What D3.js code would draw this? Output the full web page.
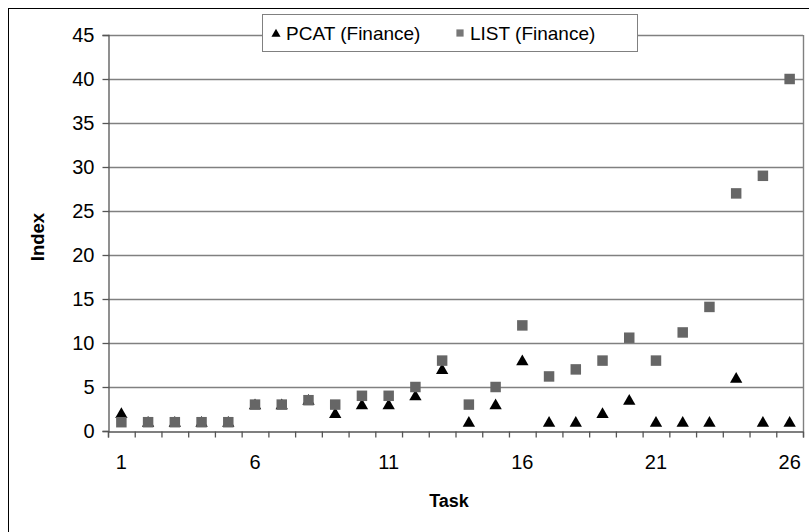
<html>
<head>
  <style>
    body { margin: 0; background: white; font-family: Arial, "Liberation Sans", Helvetica, sans-serif; }
    svg { display: block; }
  </style>
  <script src="https://cdn.jsdelivr.net/npm/d3@7"></script>
</head>
<body>
  <svg id="chart"></svg>
  <script>
    // data
    let tasks = d3.range(1, 27)
    let pcat = [2, 1, 1, 1, 1, 3, 3, 3.5, 2, 3, 3, 4, 7, 1, 3, 8, 1, 1, 2, 3.5, 1, 1, 1, 6, 1, 1]
    let list = [1, 1, 1, 1, 1, 3, 3, 3.5, 3, 4, 4, 5, 8, 3, 5, 12, 6.2, 7, 8, 10.6, 8, 11.2, 14.1, 27, 29, 40]
    let yTicks = [0, 5, 10, 15, 20, 25, 30, 35, 40, 45]
    let xLabels = [1, 6, 11, 16, 21, 26]
    let seriesNames = ["PCAT (Finance)", "LIST (Finance)"]

    let width = 809, height = 532
    let margin = { top: 35, left: 108, right: 6, bottom: 101 }
    let svg = d3.select("#chart").attr("width", width).attr("height", height)

    // outer frame
    svg.append("rect")
      .attr("x", 8.5).attr("y", 8.5)
      .attr("width", 820).attr("height", 540)
      .attr("fill", "white").attr("stroke", "#000")

    let x = d3.scaleBand().domain(tasks).range([margin.left, width - margin.right]).padding(0)
    let xEdge = d3.scaleLinear().domain([0, tasks.length]).range([margin.left, width - margin.right])
    let y = d3.scaleLinear().domain([0, 45]).range([height - margin.bottom, margin.top])

    // gridlines
    svg.append("g")
      .selectAll("line")
      .data(yTicks.filter(d => d > 0))
      .enter().append("line")
      .attr("x1", margin.left).attr("x2", width - margin.right)
      .attr("y1", d => Math.round(y(d)) + 0.5).attr("y2", d => Math.round(y(d)) + 0.5)
      .attr("stroke", "#808080").attr("stroke-width", 1.4)

    // right border of plot area
    svg.append("line")
      .attr("x1", width - margin.right + 0.5).attr("x2", width - margin.right + 0.5)
      .attr("y1", margin.top).attr("y2", y(0))
      .attr("stroke", "#808080").attr("stroke-width", 1.4)

    // y axis
    let axisY = d3.axisLeft(y).tickValues(yTicks).tickSize(6).tickPadding(8)
    let gy = svg.append("g")
      .attr("transform", `translate(${margin.left + 0.5},0)`)
      .call(axisY)
    gy.selectAll("text").attr("font-size", 20).attr("font-family", "Arial, 'Liberation Sans', sans-serif").attr("fill", "#000")
    gy.selectAll("line, path").attr("stroke", "#555").attr("stroke-width", 1.3)

    // x axis: ticks between categories
    let axisXTicks = d3.axisBottom(xEdge).tickValues(d3.range(0, tasks.length + 1)).tickSize(6).tickFormat("")
    let gx = svg.append("g")
      .attr("transform", `translate(0,${Math.round(y(0)) + 0.5})`)
      .call(axisXTicks)
    gx.selectAll("line, path").attr("stroke", "#555").attr("stroke-width", 1.3)

    let axisXLabels = d3.axisBottom(x).tickValues(xLabels).tickSize(0).tickPadding(24)
    let gxl = svg.append("g")
      .attr("transform", `translate(0,${y(0)})`)
      .call(axisXLabels)
    gxl.select(".domain").remove()
    gxl.selectAll("text").attr("font-size", 20).attr("font-family", "Arial, 'Liberation Sans', sans-serif").attr("fill", "#000")

    // axis titles
    svg.append("text")
      .attr("x", 449).attr("y", 507)
      .attr("text-anchor", "middle")
      .attr("font-size", 18).attr("font-weight", "bold")
      .text("Task")

    svg.append("text")
      .attr("transform", "translate(44,237) rotate(-90)")
      .attr("text-anchor", "middle")
      .attr("font-size", 18.5).attr("font-weight", "bold")
      .text("Index")

    // markers
    let tri = d3.symbol().type(d3.symbolTriangle).size(66)
    let sq = d3.symbol().type(d3.symbolSquare).size(110)

    svg.append("g").selectAll("path")
      .data(tasks)
      .enter().append("path")
      .attr("d", tri)
      .attr("transform", (d, i) => `translate(${x(d) + x.bandwidth() / 2},${y(pcat[i]) + 1})`)
      .attr("fill", "#000")

    svg.append("g").selectAll("path")
      .data(tasks)
      .enter().append("path")
      .attr("d", sq)
      .attr("transform", (d, i) => `translate(${x(d) + x.bandwidth() / 2},${y(list[i])})`)
      .attr("fill", "#666")

    // legend
    let legend = svg.append("g")
    legend.append("rect")
      .attr("x", 262.5).attr("y", 14.5)
      .attr("width", 375).attr("height", 37)
      .attr("fill", "white").attr("stroke", "#808080")
    legend.append("path")
      .attr("d", d3.symbol().type(d3.symbolTriangle).size(36))
      .attr("transform", "translate(276,34)")
      .attr("fill", "#000")
    legend.append("text")
      .attr("x", 286).attr("y", 40)
      .attr("font-size", 19)
      .text(seriesNames[0])
    legend.append("path")
      .attr("d", d3.symbol().type(d3.symbolSquare).size(52))
      .attr("transform", "translate(460,33)")
      .attr("fill", "#777")
    legend.append("text")
      .attr("x", 470).attr("y", 40)
      .attr("font-size", 19)
      .text(seriesNames[1])
  </script>
</body>
</html>
